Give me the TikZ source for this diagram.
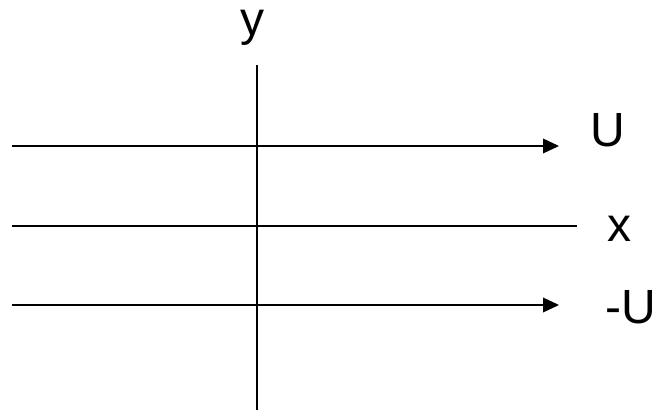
\documentclass[tikz,border=0pt]{standalone}
\usepackage{fontspec}
\setmainfont{Liberation Sans}
\usetikzlibrary{arrows.meta}

\begin{document}
\begin{tikzpicture}[x=0.75pt, y=-0.75pt,
    axis/.style={line width=1.1pt},
    flow/.style={axis, -{Triangle[length=12pt, width=11pt]}},
    lbl/.style={font=\fontsize{36}{40}\selectfont, inner sep=0pt}]
  \useasboundingbox (0,0) rectangle (660,420);

  \coordinate (ytop) at (257,65);
  \coordinate (ybot) at (257,410);
  \coordinate (ustart) at (12,146);
  \coordinate (uend) at (559,146);
  \coordinate (xstart) at (12,226);
  \coordinate (xend) at (577,226);
  \coordinate (mstart) at (12,305);
  \coordinate (mend) at (559,305);

  \node[lbl, anchor=base] (ylab) at (252,36) {y};
  \node[lbl, anchor=base] (ulab) at (608,147) {U};
  \node[lbl, anchor=base] (xlab) at (619,242) {x};
  \node[lbl, anchor=base] (mlab) at (631,323) {-U};

  \draw[axis] (ytop) -- (ybot);
  \draw[flow] (ustart) -- (uend);
  \draw[axis] (xstart) -- (xend);
  \draw[flow] (mstart) -- (mend);
\end{tikzpicture}
\end{document}
